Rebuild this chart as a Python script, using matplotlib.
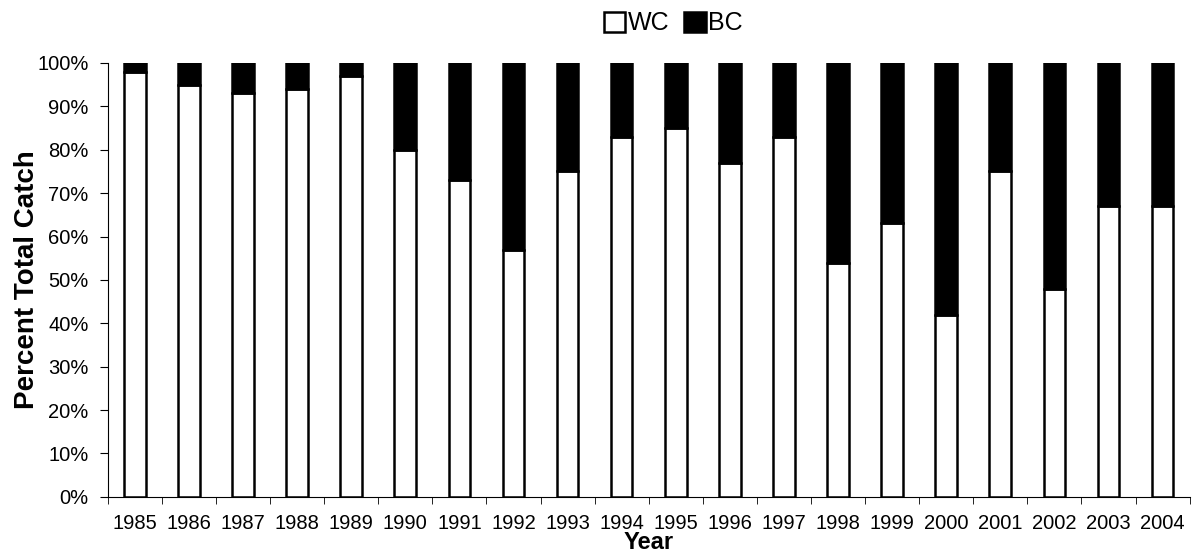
import matplotlib.pyplot as plt
import matplotlib
import numpy as np
from matplotlib.ticker import PercentFormatter

years = ["1985", "1986", "1987", "1988", "1989", "1990", "1991", "1992", "1993", "1994",
         "1995", "1996", "1997", "1998", "1999", "2000", "2001", "2002", "2003", "2004"]
wc = [98, 95, 93, 94, 97, 80, 73, 57, 75, 83, 85, 77, 83, 54, 63, 42, 75, 48, 67, 67]
bc = [100 - v for v in wc]

matplotlib.rc('font', family=['Liberation Sans', 'DejaVu Sans'], size=14.5)

fig = plt.figure(figsize=(11.98, 5.57), dpi=100)
ax = fig.add_axes([0.090, 0.108, 0.903, 0.779])

x = np.arange(len(years))
ax.bar(x, wc, width=0.4, color='white', edgecolor='black', linewidth=1.8, label='WC')
ax.bar(x, bc, width=0.4, bottom=wc, color='black', edgecolor='black', linewidth=1.8, label='BC')

ax.set_xlim(-0.5, len(years) - 0.5)
ax.set_ylim(0, 100)
ax.set_yticks(range(0, 101, 10))
ax.yaxis.set_major_formatter(PercentFormatter(decimals=0))

ax.set_xticks(x)
ax.set_xticklabels(years)
ax.set_xticks(np.arange(-0.5, len(years), 1), minor=True)
ax.tick_params(axis='x', which='major', length=0, pad=12)
ax.tick_params(axis='x', which='minor', length=5, direction='out')
ax.tick_params(axis='y', length=6, direction='out', pad=8)

for s in ['top', 'right']:
    ax.spines[s].set_visible(False)

ax.set_ylabel("Percent Total Catch", fontsize=20, fontweight='bold', labelpad=-2)
ax.set_xlabel("Year", fontsize=17, fontweight='bold', labelpad=-1)

fig.legend(loc='upper center', bbox_to_anchor=(0.562, 1.02), ncol=2, frameon=False,
           handlelength=0.85, handleheight=0.85, handletextpad=0.1, columnspacing=0.6,
           fontsize=18)

plt.savefig("out.png", dpi=100)
